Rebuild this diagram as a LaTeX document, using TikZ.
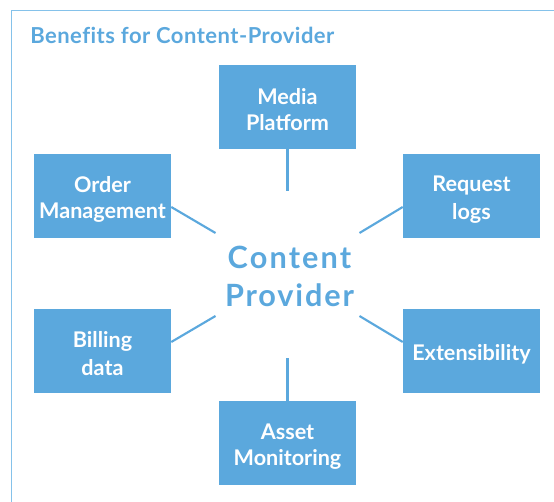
\documentclass[tikz,border=0pt]{standalone}
\usepackage{fontspec}
\setmainfont{Lato}
\newcommand{\boxstrut}{\rule[-2pt]{0pt}{19.4pt}}
\definecolor{blu}{HTML}{5BA8DD}
\definecolor{frm}{HTML}{85C2EA}
\tikzset{
  px/.style={x=0.75pt,y=-0.75pt},
  boxn/.style={fill=blu,text=white,minimum width=102.75pt,minimum height=63pt,inner sep=0pt,align=center,font=\fontsize{16.2}{19.6}\selectfont\bfseries},
  link/.style={draw=blu,line width=1.6pt},
}
\begin{document}
\begin{tikzpicture}[px]
\useasboundingbox (0,0) rectangle (554,502);
\draw[frm,line width=0.9pt] (554,10.5) -- (11.5,10.5) -- (11.5,502);
\node[text=blu,anchor=base west,inner sep=0pt,font=\fontsize{16.5}{20}\selectfont\bfseries] (title) at (30,44) {\addfontfeature{LetterSpace=2.2,Ligatures=NoCommon}Benefits for Content-Provider};
\node[boxn] (media) at (287.5,107) {\boxstrut Media\\\boxstrut Platform};
\node[boxn] (order) at (102.5,196) {\boxstrut Order\\\boxstrut Management};
\node[boxn] (req) at (471.5,196) {\boxstrut Request\\\boxstrut logs};
\node[boxn] (bill) at (102.5,351) {\boxstrut Billing\\\boxstrut data};
\node[boxn] (ext) at (471.5,351) {\boxstrut Extensibility};
\node[boxn] (asset) at (287.5,443) {\boxstrut Asset\\\boxstrut Monitoring};
\node[text=blu,align=center,inner sep=0pt,font=\fontsize{23}{29}\selectfont\bfseries] (cp) at (289.5,275.5) {\rule[-2pt]{0pt}{22pt}\addfontfeature{LetterSpace=7}Content\\\rule[-2pt]{0pt}{22pt}\addfontfeature{LetterSpace=6}Provider};
\coordinate (a1) at (287.5,191);
\coordinate (a2) at (215.5,233);
\coordinate (a3) at (359.5,233);
\coordinate (a4) at (215.5,316);
\coordinate (a5) at (359.5,316);
\coordinate (a6) at (287.5,358);
\draw[link] (media.south) -- (a1);
\draw[link] (order.east |- 0,207) -- (a2);
\draw[link] (req.west |- 0,207) -- (a3);
\draw[link] (bill.east |- 0,342) -- (a4);
\draw[link] (ext.west |- 0,342) -- (a5);
\draw[link] (asset.north) -- (a6);
\end{tikzpicture}
\end{document}
